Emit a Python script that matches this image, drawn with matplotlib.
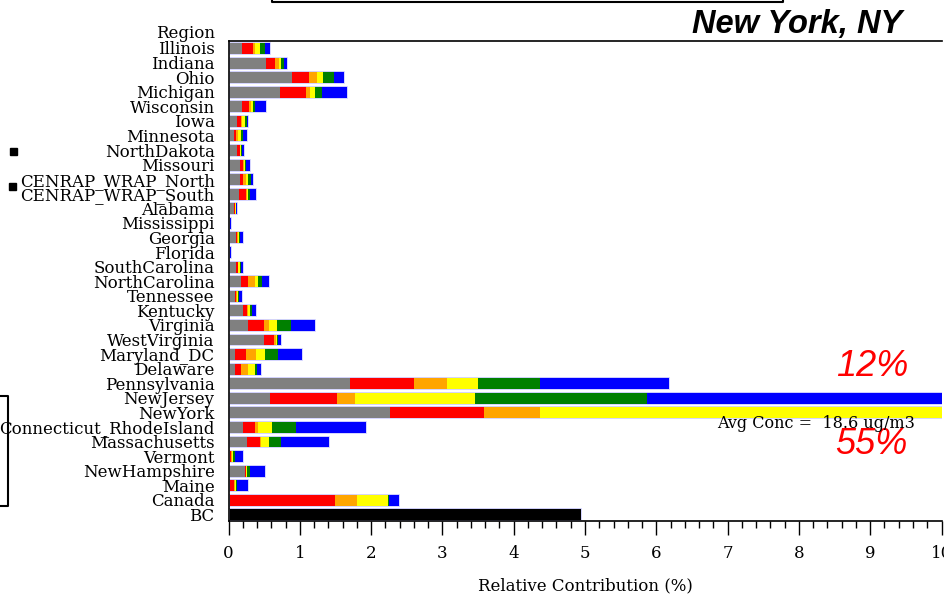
import matplotlib
matplotlib.use("Agg")
import matplotlib.pyplot as plt
from matplotlib.patches import Rectangle
from matplotlib.lines import Line2D
import numpy as np

regions = ["Illinois", "Indiana", "Ohio", "Michigan", "Wisconsin", "Iowa", "Minnesota",
           "NorthDakota", "Missouri", "CENRAP_WRAP_North", "CENRAP_WRAP_South", "Alabama",
           "Mississippi", "Georgia", "Florida", "SouthCarolina", "NorthCarolina", "Tennessee",
           "Kentucky", "Virginia", "WestVirginia", "Maryland_DC", "Delaware", "Pennsylvania",
           "NewJersey", "NewYork", "Connecticut_RhodeIsland", "Massachusetts", "Vermont",
           "NewHampshire", "Maine", "Canada", "BC"]

gray   = [0.19, 0.52, 0.895, 0.72, 0.19, 0.125, 0.08, 0.125, 0.16, 0.16, 0.145, 0.075,
          0.0, 0.105, 0.005, 0.105, 0.17, 0.09, 0.20, 0.28, 0.50, 0.09, 0.09, 1.71,
          0.58, 2.26, 0.21, 0.26, 0.01, 0.23, 0.0, 0.0, 0.0]
red    = [0.155, 0.135, 0.24, 0.36, 0.10, 0.045, 0.03, 0.03, 0.045, 0.05, 0.10, 0.01,
          0.0, 0.02, 0.0, 0.025, 0.105, 0.02, 0.06, 0.22, 0.14, 0.155, 0.085, 0.89,
          0.94, 1.33, 0.155, 0.185, 0.02, 0.01, 0.075, 1.49, 0.0]
orange = [0.03, 0.05, 0.10, 0.065, 0.03, 0.025, 0.03, 0.01, 0.015, 0.04, 0.01, 0.01,
          0.0, 0.015, 0.0, 0.01, 0.095, 0.01, 0.015, 0.065, 0.02, 0.135, 0.10, 0.47,
          0.26, 0.78, 0.05, 0.01, 0.015, 0.01, 0.015, 0.31, 0.0]
yellow = [0.065, 0.03, 0.085, 0.065, 0.025, 0.04, 0.03, 0.01, 0.01, 0.03, 0.015, 0.005,
          0.0, 0.01, 0.0, 0.02, 0.04, 0.02, 0.02, 0.12, 0.015, 0.135, 0.10, 0.43,
          1.675, 5.8, 0.19, 0.11, 0.015, 0.01, 0.015, 0.435, 0.0]
green  = [0.07, 0.05, 0.155, 0.10, 0.03, 0.02, 0.03, 0.02, 0.02, 0.03, 0.03, 0.005,
          0.025, 0.015, 0.003, 0.02, 0.065, 0.01, 0.03, 0.19, 0.015, 0.18, 0.025, 0.865,
          2.42, 0.0, 0.34, 0.17, 0.03, 0.04, 0.015, 0.015, 0.0]
blue   = [0.07, 0.04, 0.14, 0.345, 0.15, 0.025, 0.065, 0.02, 0.05, 0.04, 0.08, 0.01,
          0.015, 0.035, 0.03, 0.025, 0.09, 0.04, 0.055, 0.34, 0.05, 0.33, 0.06, 1.815,
          4.13, 0.0, 0.99, 0.68, 0.11, 0.215, 0.16, 0.14, 0.0]
bc     = [0.0] * 32 + [4.94]

series = [gray, red, orange, yellow, green, blue, bc]
colors = ["#808080", "#ff0000", "#ffa500", "#ffff00", "#008000", "#0000ff", "#000000"]

W, H = 944, 599
fig = plt.figure(figsize=(W / 100, H / 100), dpi=100)
serif = "DejaVu Serif"
FS = 12

ax = fig.add_axes([228.5 / W, 1 - 520.5 / H, 713 / W, 479.5 / H])
y = np.arange(len(regions))
left = np.zeros(len(regions))
for vals, col in zip(series, colors):
    v = np.array(vals)
    ax.barh(y, v, left=left, height=0.82, color=col, edgecolor="none", linewidth=0)
    left += v
# light outline around each whole bar
ax.barh(y, left, height=0.82, facecolor="none", edgecolor="#d4d4ff", linewidth=0.7)

ax.set_xlim(0, 10)
ax.set_ylim(32.42, -0.48)
ax.set_yticks(y)
ax.set_yticklabels(regions, fontfamily=serif, fontsize=FS)
ax.tick_params(axis="y", length=0, pad=10)
ax.set_xticks(np.arange(0, 11, 1))
ax.set_xticklabels([str(i) for i in range(11)], fontfamily=serif, fontsize=FS)
ax.set_xticks(np.arange(0, 10.01, 0.2), minor=True)
ax.tick_params(axis="x", which="major", length=10, width=1, direction="out", pad=8)
ax.tick_params(axis="x", which="minor", length=5, width=1, direction="out")
ax.spines["right"].set_visible(False)
for s in ["top", "left", "bottom"]:
    ax.spines[s].set_linewidth(1.2)
ax.set_xlabel("Relative Contribution (%)", fontfamily=serif, fontsize=FS, labelpad=11)

ax.text(-13 / 71.3, -1, "Region", ha="right", va="center", fontfamily=serif,
        fontsize=FS, clip_on=False)

fig.text(902 / W, 1 - 25 / H, "New York, NY", ha="right", va="center",
         fontfamily="Liberation Sans", fontweight="bold", fontstyle="italic",
         fontsize=23.5)
fig.text(908 / W, 1 - 367 / H, "12%", ha="right", va="center", color="red",
         fontfamily="Liberation Sans", fontstyle="italic", fontsize=26)
fig.text(908 / W, 1 - 445 / H, "55%", ha="right", va="center", color="red",
         fontfamily="Liberation Sans", fontstyle="italic", fontsize=26)
fig.text(915 / W, 1 - 424 / H, "Avg Conc =  18.6 ug/m3", ha="right", va="center",
         fontfamily=serif, fontsize=11.5)

# leftover frame elements at the edges
def fline(xs, ys):
    fig.add_artist(Line2D([x / W for x in xs], [1 - v / H for v in ys],
                          color="black", lw=1.5))

fline([272, 272, 783, 783], [-2, 1.5, 1.5, -2])
fline([0, 8, 8, 0], [396, 396, 506, 506])
fig.add_artist(Rectangle((10 / W, 1 - 155 / H), 7 / W, 7 / H, color="black"))
fig.add_artist(Rectangle((9 / W, 1 - 190 / H), 7 / W, 7 / H, color="black"))

fig.savefig("out.png", dpi=100)
